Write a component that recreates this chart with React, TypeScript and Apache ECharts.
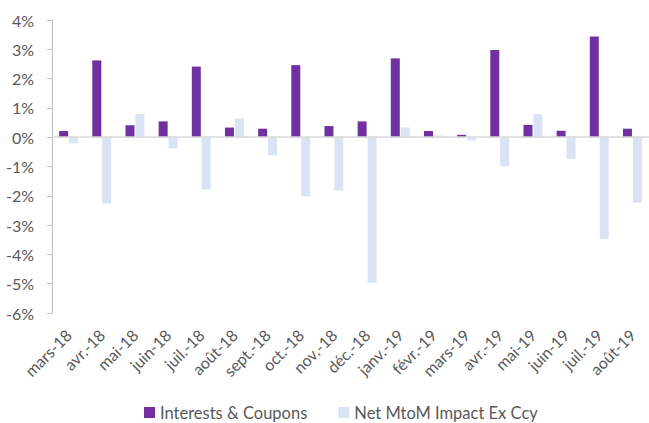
import React, { useEffect, useRef } from "react";
import * as echarts from "echarts";

const categories = [
  "mars-18", "avr.-18", "mai-18", "juin-18", "juil.-18", "août-18", "sept.-18", "oct.-18", "nov.-18",
  "déc.-18", "janv.-19", "févr.-19", "mars-19", "avr.-19", "mai-19", "juin-19", "juil.-19", "août-19",
];
const interestsCoupons = [0.21, 2.62, 0.41, 0.54, 2.41, 0.33, 0.29, 2.46, 0.38, 0.54, 2.69, 0.21, 0.08, 2.98, 0.42, 0.22, 3.44, 0.29];
const netMtoM = [-0.21, -2.26, 0.79, -0.38, -1.78, 0.64, -0.62, -2.02, -1.82, -4.97, 0.33, 0.06, -0.11, -0.99, 0.79, -0.74, -3.47, -2.23];

const FONT = "Lato";
const TEXT = "#595959";

export default function App() {
  const ref = useRef<HTMLDivElement>(null);
  useEffect(() => {
    const chart = echarts.init(ref.current!, null, { renderer: "svg" });
    chart.setOption({
      animation: false,
      textStyle: { fontFamily: FONT },
      grid: { left: 52, top: 20, width: 603, height: 293, containLabel: false },
      legend: {
        top: 404,
        left: 144,
        padding: 0,
        itemWidth: 11,
        itemHeight: 11,
        itemGap: 31,
        icon: "rect",
        textStyle: { fontFamily: FONT, fontSize: 16.5, color: TEXT },
        data: ["Interests & Coupons", "Net MtoM Impact Ex Ccy"],
      },
      xAxis: {
        type: "category",
        data: categories,
        axisLine: { show: false, onZero: false },
        axisTick: { show: false },
        axisLabel: {
          rotate: 45,
          interval: 0,
          margin: 19,
          fontFamily: FONT,
          fontSize: 16,
          color: TEXT,
        },
      },
      yAxis: {
        type: "value",
        min: -6,
        max: 4,
        interval: 1,
        axisLine: { show: true, lineStyle: { color: "#BFBFBF", width: 1 } },
        axisTick: { show: true, length: 5, lineStyle: { color: "#BFBFBF" } },
        splitLine: { show: false },
        axisLabel: {
          formatter: (v: number) => `${v}%`,
          fontFamily: FONT,
          fontSize: 16,
          color: TEXT,
          margin: 18,
        },
      },
      series: [
        {
          name: "Interests & Coupons",
          type: "bar",
          data: interestsCoupons,
          barWidth: 9,
          barGap: "10%",
          itemStyle: { color: "#7030A0" },
          markLine: {
            silent: true,
            symbol: "none",
            label: { show: false },
            lineStyle: { color: "#D9D9D9", type: "solid", width: 1.5 },
            data: [{ yAxis: 0 }],
          },
        },
        {
          name: "Net MtoM Impact Ex Ccy",
          type: "bar",
          data: netMtoM,
          barWidth: 9,
          itemStyle: { color: "#DAE3F3" },
        },
      ],
    });
    return () => chart.dispose();
  }, []);
  return <div ref={ref} style={{ width: 649, height: 423, position: "absolute", left: 0, top: 0 }} />;
}
